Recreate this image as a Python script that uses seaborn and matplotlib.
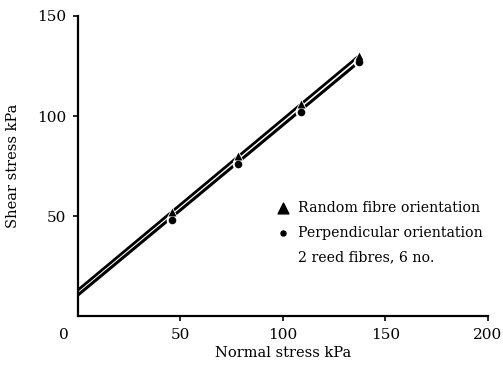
import matplotlib
matplotlib.use("Agg")
import matplotlib.pyplot as plt
import seaborn as sns

# Data
normal_stress = [46, 78, 109, 137]
random_shear = [52, 80, 106, 130]
perp_shear = [48, 76, 102, 127]

fit_x = [0, 137]
random_fit = [13, 130]
perp_fit = [10.5, 127]

x_ticks = [50, 100, 150, 200]
y_ticks = [50, 100, 150]

legend_labels = ["Random fibre orientation", "Perpendicular orientation", "2 reed fibres, 6 no."]

sns.set_theme(style="ticks")
plt.rcParams["font.family"] = ["DejaVu Serif"]
plt.rcParams["text.color"] = "black"
plt.rcParams["axes.labelcolor"] = "black"

fig = plt.figure(figsize=(5.03, 3.72), dpi=100)
ax = fig.add_axes([0.155, 0.1505, 0.815, 0.8065])

sns.lineplot(x=fit_x, y=random_fit, ax=ax, color="black", linewidth=2.0)
sns.lineplot(x=fit_x, y=perp_fit, ax=ax, color="black", linewidth=2.2)

# white halo to break the lines around the markers
sns.scatterplot(x=normal_stress, y=random_shear, ax=ax, marker="^", s=70,
                color="white", edgecolor="white", linewidth=0, zorder=4)
sns.scatterplot(x=normal_stress, y=perp_shear, ax=ax, marker="o", s=70,
                color="white", edgecolor="white", linewidth=0, zorder=4)
sns.scatterplot(x=normal_stress, y=random_shear, ax=ax, marker="^", s=32,
                color="black", edgecolor="black", linewidth=0, zorder=5)
sns.scatterplot(x=normal_stress, y=perp_shear, ax=ax, marker="o", s=30,
                color="black", edgecolor="black", linewidth=0, zorder=6)

ax.set_xlim(0, 200)
ax.set_ylim(0, 150)
ax.set_xticks(x_ticks)
ax.set_yticks(y_ticks)
ax.set_xticklabels([str(v) for v in x_ticks], fontsize=11)
ax.set_yticklabels([str(v) for v in y_ticks], fontsize=11)
ax.tick_params(axis="both", direction="out", length=3.5, width=1.2, colors="black",
               labelcolor="black", pad=5)
for s in ["left", "bottom"]:
    ax.spines[s].set_linewidth(1.6)
    ax.spines[s].set_color("black")
sns.despine(ax=ax)

ax.set_xlabel("Normal stress kPa", fontsize=10.5, labelpad=3, color="black")
ax.set_ylabel("Shear stress kPa", fontsize=10.5, labelpad=12, color="black")
ax.text(-0.035, -0.04, "0", transform=ax.transAxes, ha="center", va="top", fontsize=11, color="black")

# Legend as text with marker symbols
ax.scatter([0.5], [0.36], transform=ax.transAxes, marker="^", s=60, color="black", clip_on=False)
ax.scatter([0.5], [0.277], transform=ax.transAxes, marker="o", s=13, color="black", clip_on=False)
ax.text(0.537, 0.36, legend_labels[0], transform=ax.transAxes, va="center", fontsize=10.2, color="black")
ax.text(0.537, 0.277, legend_labels[1], transform=ax.transAxes, va="center", fontsize=10.2, color="black")
ax.text(0.537, 0.197, legend_labels[2], transform=ax.transAxes, va="center", fontsize=10.2, color="black")

fig.savefig("out.png", dpi=100, facecolor="white")
